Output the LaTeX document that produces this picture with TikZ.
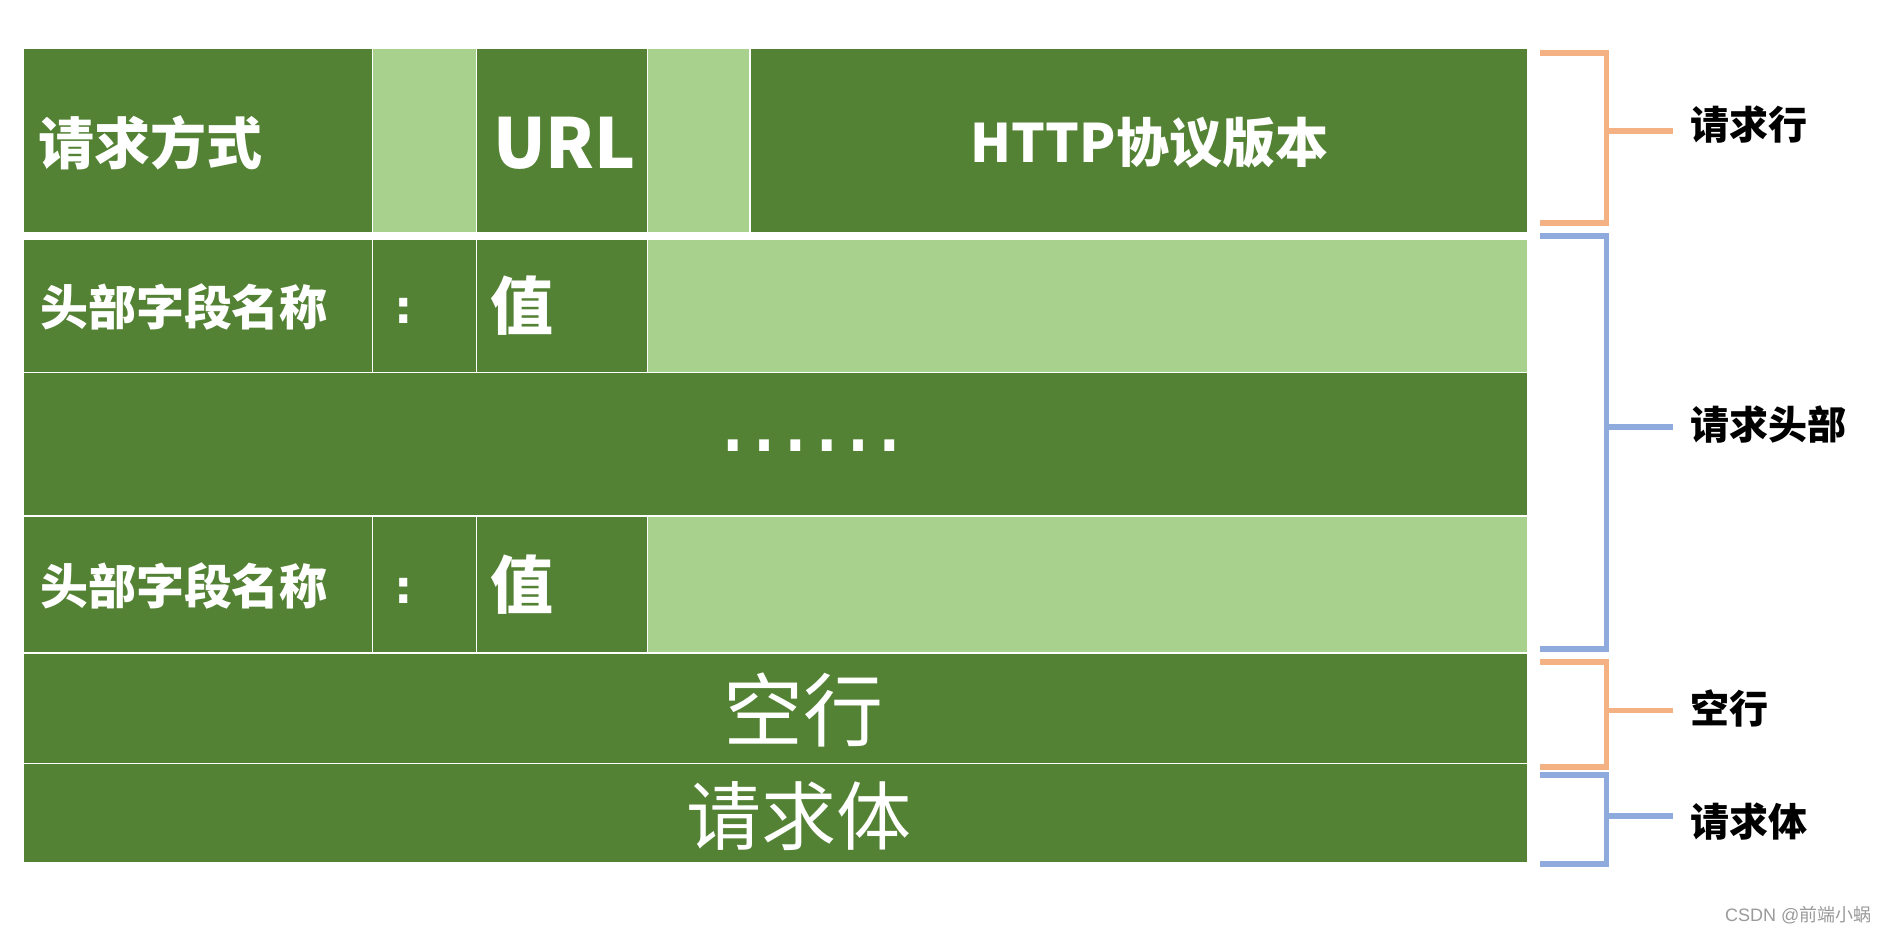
\documentclass[tikz,border=0pt]{standalone}
\usepackage{fontspec}
\setmainfont{Noto Sans CJK SC}
\newfontfamily\wmfont{Liberation Sans}
\newfontfamily\dotfont{DejaVu Sans}
\definecolor{dkg}{HTML}{548235}
\definecolor{ltg}{HTML}{A9D18E}
\definecolor{brOr}{HTML}{F4B183}
\definecolor{brBl}{HTML}{8FAADC}
\definecolor{wmgray}{HTML}{9A9A9A}
\begin{document}
\begin{tikzpicture}[x=1pt,y=-1pt,
  cell/.style={draw=white, line width=1.8pt},
  dk/.style={cell, fill=dkg},
  lt/.style={cell, fill=ltg},
  txt/.style={text=white, inner sep=0pt, outer sep=0pt},
  lbl/.style={text=black, inner sep=0pt, anchor=west, font=\fontsize{39}{42}\selectfont\bfseries},
  brk/.style={line width=5.7pt},
]
\useasboundingbox[fill=white] (0,0) rectangle (1891,934);

% row 1: request line
\path[dk] (23.5,48.3) rectangle (372.5,233.3);
\path[lt] (372.5,48.3) rectangle (476.5,233.3);
\path[dk] (476.5,48.3) rectangle (647.5,233.3);
\path[lt] (647.5,48.3) rectangle (750,233.3);
\path[dk] (750,48.3) rectangle (1528,233.3);
% row 2: header
\path[dk] (23.5,239.3) rectangle (372.5,372.5);
\path[dk] (372.5,239.3) rectangle (476.5,372.5);
\path[dk] (476.5,239.3) rectangle (647.5,372.5);
\path[lt] (647.5,239.3) rectangle (1528,372.5);
% row 3: ellipsis
\path[dk] (23.5,372.5) rectangle (1528,516);
% row 4: header
\path[dk] (23.5,516) rectangle (372.5,653);
\path[dk] (372.5,516) rectangle (476.5,653);
\path[dk] (476.5,516) rectangle (647.5,653);
\path[lt] (647.5,516) rectangle (1528,653);
% row 5: blank line
\path[dk] (23.5,653) rectangle (1528,763.5);
% row 6: body
\path[dk] (23.5,763.5) rectangle (1528,863);

% table texts
\node[txt, anchor=west, font=\fontsize{56}{60}\selectfont\bfseries] (method) at (38,142.5) {请求方式};
\node[txt, anchor=west, font=\fontsize{69}{72}\selectfont\bfseries] (url) at (493,143.5) {URL};
\node[txt, font=\fontsize{53}{58}\selectfont\bfseries] (ver) at (1149.5,142.5) {HTTP协议版本};

\node[txt, anchor=west, font=\fontsize{48}{52}\selectfont\bfseries] (name1) at (40,306.5) {头部字段名称};
\node[txt, font=\fontsize{46}{50}\selectfont\dotfont\bfseries] (colon1) at (404,311) {:};
\node[txt, anchor=west, font=\fontsize{63}{66}\selectfont\bfseries] (val1) at (490,305.5) {值};

\node[txt, font=\fontsize{94}{98}\selectfont\dotfont] (dots) at (811.5,446) {……};

\node[txt, anchor=west, font=\fontsize{48}{52}\selectfont\bfseries] (name2) at (40,585.5) {头部字段名称};
\node[txt, font=\fontsize{46}{50}\selectfont\dotfont\bfseries] (colon2) at (404,591) {:};
\node[txt, anchor=west, font=\fontsize{63}{66}\selectfont\bfseries] (val2) at (490,584.5) {值};

\node[txt, font=\fontsize{80}{84}\selectfont] (blank) at (803.5,710) {空行};
\node[txt, font=\fontsize{75}{80}\selectfont] (body) at (799,816) {请求体};

% right labels
\node[lbl] (L1) at (1690,125) {请求行};
\node[lbl] (L2) at (1690,425) {请求头部};
\node[lbl] (L3) at (1690,708.5) {空行};
\node[lbl] (L4) at (1690,821.5) {请求体};

% brackets
\coordinate (b1t) at (1540,53);   \coordinate (b1m) at (1606.5,131); \coordinate (b1b) at (1540,223); \coordinate (b1e) at (1673,131);
\coordinate (b2t) at (1540,236);  \coordinate (b2m) at (1606.5,427); \coordinate (b2b) at (1540,649); \coordinate (b2e) at (1673,427);
\coordinate (b3t) at (1540,662);  \coordinate (b3m) at (1606.5,710.5); \coordinate (b3b) at (1540,767); \coordinate (b3e) at (1673,710.5);
\coordinate (b4t) at (1540,775);  \coordinate (b4m) at (1606.5,816); \coordinate (b4b) at (1540,864); \coordinate (b4e) at (1673,816);

\draw[brk, brOr] (b1t) -| (b1m) |- (b1b);
\draw[brk, brOr] (b1m) -- (b1e);
\draw[brk, brBl] (b2t) -| (b2m) |- (b2b);
\draw[brk, brBl] (b2m) -- (b2e);
\draw[brk, brOr] (b3t) -| (b3m) |- (b3b);
\draw[brk, brOr] (b3m) -- (b3e);
\draw[brk, brBl] (b4t) -| (b4m) |- (b4b);
\draw[brk, brBl] (b4m) -- (b4e);

% watermark
\node[anchor=west, text=wmgray, inner sep=0pt, font=\fontsize{18}{20}\selectfont] (wm) at (1725,915.5) {{\wmfont CSDN @}前端小蜗};
\end{tikzpicture}
\end{document}
